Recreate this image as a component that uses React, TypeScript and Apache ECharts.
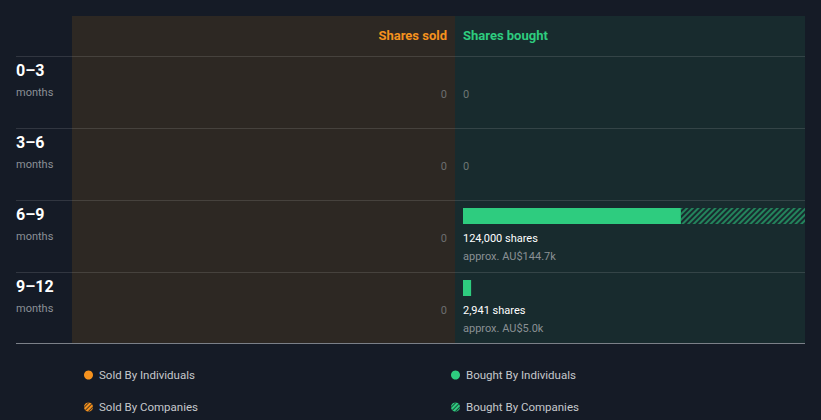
import React, { useEffect, useRef } from "react";
import * as echarts from "echarts";

const rowLabels = ["0–3", "3–6", "6–9", "9–12"];
const rowUnit = "months";
const soldIndividuals = [0, 0, 0, 0];
const soldCompanies = [0, 0, 0, 0];
const boughtIndividuals = [0, 0, 79000, 2941];
const boughtCompanies = [0, 0, 45000, 0];
const soldValueK = [0, 0, 0, 0];
const boughtValueK = [0, 0, 144.7, 5.0];
const currency = "AU$";

const ORANGE = "#f5921e";
const GREEN = "#2ecc7f";
const BG = "#151b26";
const FONT = "Roboto, 'Noto Sans', sans-serif";

const fmt = (n: number) => n.toLocaleString("en-US");
const toBar = (arr: number[]) => arr.map((v) => (v === 0 ? "-" : v));

function buildOption() {
  const soldTotals = soldIndividuals.map((v, i) => v + soldCompanies[i]);
  const boughtTotals = boughtIndividuals.map((v, i) => v + boughtCompanies[i]);
  const boughtMax = Math.max(...boughtTotals, 1);
  const soldMax = Math.max(...soldTotals, 1);
  const idx = rowLabels.map((_, i) => [0, i]);

  const hatch = (color: string) => ({
    symbol: "rect",
    symbolSize: 1,
    color,
    backgroundColor: "rgba(0,0,0,0)",
    dashArrayX: [1, 0],
    dashArrayY: [1.4, 1.5],
    rotation: -Math.PI / 4,
  });
  const iconHatch = {
    symbol: "rect",
    symbolSize: 1,
    color: "rgba(20,24,30,0.75)",
    dashArrayX: [1, 0],
    dashArrayY: [1, 1.6],
    rotation: -Math.PI / 4,
  };

  const textBase = { fontFamily: FONT };

  const legends = [
    { name: "Sold By Individuals", left: 79, top: 364, color: ORANGE, hatched: false },
    { name: "Sold By Companies", left: 79, top: 396, color: ORANGE, hatched: true },
    { name: "Bought By Individuals", left: 446, top: 364, color: GREEN, hatched: false },
    { name: "Bought By Companies", left: 446, top: 396, color: GREEN, hatched: true },
  ];

  return {
    animation: false,
    backgroundColor: BG,
    grid: [
      { left: 72, top: 36, width: 375, height: 288 },
      { left: 463, top: 36, width: 342, height: 288 },
    ],
    xAxis: [
      { type: "value", gridIndex: 0, min: 0, max: soldMax, inverse: true, show: false },
      { type: "value", gridIndex: 1, min: 0, max: boughtMax, show: false },
    ],
    yAxis: [
      { type: "category", gridIndex: 0, data: rowLabels, inverse: true, show: false },
      { type: "category", gridIndex: 1, data: rowLabels, inverse: true, show: false },
    ],
    legend: legends.map((l) => ({
      data: [
        {
          name: l.name,
          icon: "circle",
          itemStyle: l.hatched ? { color: l.color, decal: iconHatch } : { color: l.color, decal: "none" },
        },
      ],
      left: l.left,
      top: l.top,
      itemWidth: 9,
      itemHeight: 9,
      selectedMode: false,
      textStyle: { color: "#c5c8cc", fontSize: 11.5, fontFamily: FONT, padding: [0, 0, 0, 1] },
    })),
    graphic: [
      { type: "rect", z: 0, shape: { x: 72, y: 16, width: 383, height: 327 }, style: { fill: "#2d2823" } },
      { type: "rect", z: 0, shape: { x: 455, y: 16, width: 350, height: 327 }, style: { fill: "#182b2e" } },
      {
        type: "text", z: 1, x: 447, y: 35,
        style: { text: "Shares sold", fill: ORANGE, fontSize: 13, fontWeight: "bold", align: "right", verticalAlign: "middle", ...textBase },
      },
      {
        type: "text", z: 1, x: 463, y: 35,
        style: { text: "Shares bought", fill: GREEN, fontSize: 13, fontWeight: "bold", align: "left", verticalAlign: "middle", ...textBase },
      },
      { type: "line", z: 1, shape: { x1: 16, y1: 343.5, x2: 805, y2: 343.5 }, style: { stroke: "#7b8088", lineWidth: 1 } },
    ],
    series: [
      {
        name: "Sold By Individuals", type: "bar", xAxisIndex: 0, yAxisIndex: 0, stack: "sold",
        barWidth: 16, data: toBar(soldIndividuals), itemStyle: { color: ORANGE },
      },
      {
        name: "Sold By Companies", type: "bar", xAxisIndex: 0, yAxisIndex: 0, stack: "sold",
        barWidth: 16, data: toBar(soldCompanies), itemStyle: { color: "rgba(0,0,0,0)", decal: hatch("#b36a17") },
      },
      {
        name: "Bought By Individuals", type: "bar", xAxisIndex: 1, yAxisIndex: 1, stack: "bought",
        barWidth: 16, data: toBar(boughtIndividuals), itemStyle: { color: GREEN },
      },
      {
        name: "Bought By Companies", type: "bar", xAxisIndex: 1, yAxisIndex: 1, stack: "bought",
        barWidth: 16, data: toBar(boughtCompanies), itemStyle: { color: "rgba(0,0,0,0)", decal: hatch("#23845c") },
      },
      {
        type: "custom", name: "soldLabels", xAxisIndex: 0, yAxisIndex: 0, silent: true,
        encode: { x: 0, y: 1 }, data: idx, clip: false, z: 5,
        renderItem: (params: any, api: any) => {
          const i = params.dataIndex;
          const p = api.coord([0, i]);
          const total = soldTotals[i];
          const children: any[] = [
            { type: "line", shape: { x1: 16, y1: p[1] - 15.5, x2: 805, y2: p[1] - 15.5 }, style: { stroke: "rgba(255,255,255,0.12)", lineWidth: 1 } },
            { type: "text", x: 16, y: p[1] - 2, style: { text: rowLabels[i], fill: "#ffffff", fontSize: 16, fontWeight: "bold", align: "left", verticalAlign: "middle", ...textBase } },
            { type: "text", x: 16, y: p[1] + 20, style: { text: rowUnit, fill: "#8b9096", fontSize: 11, align: "left", verticalAlign: "middle", ...textBase } },
            {
              type: "text", x: p[0], y: p[1] + 22,
              style: { text: total === 0 ? "0" : fmt(total) + " shares", fill: total === 0 ? "#6c6e70" : "#ffffff", fontSize: 11, align: "right", verticalAlign: "middle", ...textBase },
            },
          ];
          if (total > 0) {
            children.push({ type: "text", x: p[0], y: p[1] + 40, style: { text: "approx. " + currency + soldValueK[i].toFixed(1) + "k", fill: "#8a9094", fontSize: 11, align: "right", verticalAlign: "middle", ...textBase } });
          }
          return { type: "group", children };
        },
      },
      {
        type: "custom", name: "boughtLabels", xAxisIndex: 1, yAxisIndex: 1, silent: true,
        encode: { x: 0, y: 1 }, data: idx, clip: false, z: 5,
        renderItem: (params: any, api: any) => {
          const i = params.dataIndex;
          const p = api.coord([0, i]);
          const total = boughtTotals[i];
          const children: any[] = [
            {
              type: "text", x: p[0], y: p[1] + 22,
              style: { text: total === 0 ? "0" : fmt(total) + " shares", fill: total === 0 ? "#6e7674" : "#ffffff", fontSize: 11, align: "left", verticalAlign: "middle", ...textBase },
            },
          ];
          if (total > 0) {
            children.push({ type: "text", x: p[0], y: p[1] + 40, style: { text: "approx. " + currency + boughtValueK[i].toFixed(1) + "k", fill: "#8a9094", fontSize: 11, align: "left", verticalAlign: "middle", ...textBase } });
          }
          return { type: "group", children };
        },
      },
    ],
  };
}

export default function App() {
  const ref = useRef<HTMLDivElement>(null);
  useEffect(() => {
    document.body.style.margin = "0";
    document.body.style.background = BG;
    if (!ref.current) return;
    const chart = echarts.init(ref.current, null, { renderer: "svg" });
    chart.setOption(buildOption() as any);
    return () => chart.dispose();
  }, []);
  return <div ref={ref} style={{ width: 821, height: 420 }} />;
}
